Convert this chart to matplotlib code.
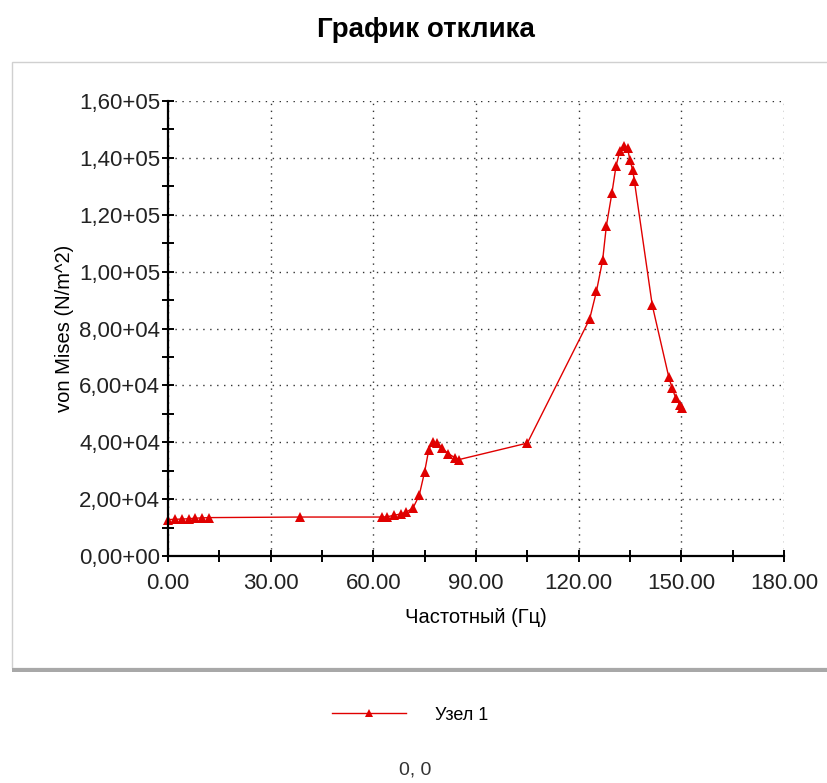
import matplotlib
matplotlib.use("Agg")
import matplotlib.pyplot as plt
from matplotlib.ticker import FuncFormatter, MultipleLocator
from matplotlib.patches import Rectangle

# частота (Гц) и напряжение von Mises (N/m^2)
freq = [0.0, 2.0, 4.0, 6.0, 8.0, 10.0, 12.0, 38.5,
        62.5, 64.0, 66.0, 68.0, 69.6, 71.6, 73.4, 75.0, 76.2, 77.3,
        78.6, 80.0, 81.9, 83.8, 85.0, 105.0,
        123.2, 125.2, 127.0, 128.1, 129.7, 130.9, 132.0, 133.2,
        134.3, 135.0, 135.8, 136.3, 141.5,
        146.3, 147.3, 148.4, 149.5, 150.3]
stress = [12800, 12900, 13000, 13100, 13300, 13400, 13500, 13700,
          13700, 13800, 14300, 14800, 15400, 16900, 21300, 29700, 37400, 40100,
          39700, 38000, 36000, 34600, 33900, 39700,
          83300, 93100, 104000, 116100, 127500, 137000, 142300, 144300,
          143300, 139100, 135600, 131700, 88200,
          63100, 59000, 55500, 53200, 52000]

series_name = "Узел 1"
title = "График отклика"
xlab = "Частотный (Гц)"
ylab = "von Mises (N/m^2)"

plt.rcParams['font.family'] = ['Liberation Sans', 'DejaVu Sans']

fig = plt.figure(figsize=(8.28, 7.83), dpi=100)

# серая рамка панели
fig.patches.append(Rectangle((12/828, 1-668/783), 820/828, 606/783, transform=fig.transFigure,
                             fill=False, edgecolor="#d0d0d0", linewidth=1.0))
fig.patches.append(Rectangle((12/828, 1-672/783), 820/828, 4/783, transform=fig.transFigure,
                             facecolor="#a8a8a8", edgecolor="none"))

ax = fig.add_axes([168/828, 1-556/783, (784-168)/828, (556-101)/783])
ax.plot(freq, stress, color="#e00000", linewidth=1.0, marker="^", markersize=6.5,
        markeredgewidth=0, label=series_name, clip_on=False)

ax.set_xlim(0, 180)
ax.set_ylim(0, 160000)
ax.xaxis.set_major_locator(MultipleLocator(30))
ax.xaxis.set_minor_locator(MultipleLocator(15))
ax.yaxis.set_major_locator(MultipleLocator(20000))
ax.yaxis.set_minor_locator(MultipleLocator(10000))
ax.xaxis.set_major_formatter(FuncFormatter(lambda v, p: "%.2f" % v))


def yfmt(v, p):
    if v == 0:
        return "0,00+00"
    e = len(str(int(v))) - 1
    return ("%.2f" % (v / 10**e)).replace(".", ",") + "+%02d" % e


ax.yaxis.set_major_formatter(FuncFormatter(yfmt))
ax.grid(True, which="major", linestyle=(0, (1, 4)), color="#333333", linewidth=1.0)
for s in ["top", "right"]:
    ax.spines[s].set_visible(False)
for s in ["left", "bottom"]:
    ax.spines[s].set_linewidth(1.6)
ax.tick_params(which="both", direction="inout", length=9, width=1.4, labelsize=16,
               labelcolor="#222222")
ax.tick_params(axis="x", pad=8)
ax.tick_params(axis="y", pad=1)

ax.set_xlabel(xlab, fontsize=14.5, labelpad=10)
ax.set_ylabel(ylab, fontsize=14.5, labelpad=4)
fig.text(0.515, 1-30/783, title, ha="center", va="center", fontsize=20, fontweight="bold")

ax.legend(loc="center", bbox_to_anchor=(410/828, 1-715/783), bbox_transform=fig.transFigure,
          frameon=False, fontsize=13, handlelength=4.1, handletextpad=1.6, markerscale=0.8)
fig.text(415/828, 1-770/783, "0, 0", ha="center", va="center", fontsize=14, color="#333333")

fig.savefig("out.png", dpi=100)
